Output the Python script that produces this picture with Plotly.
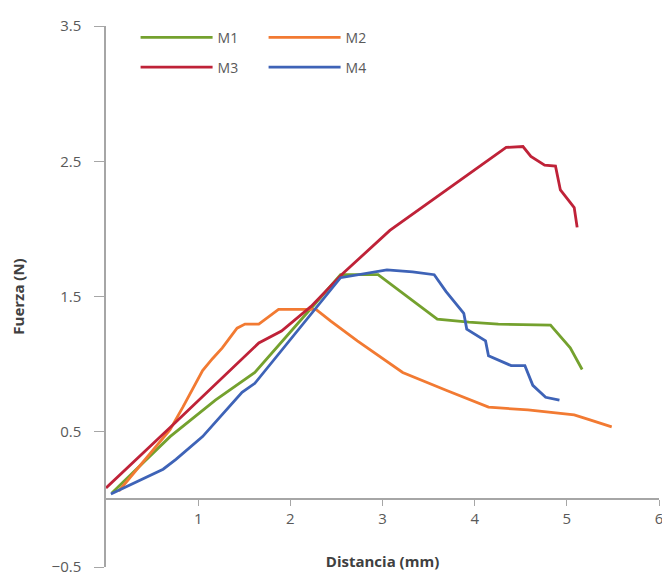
import plotly.graph_objects as go

# Data
m1_x = [0.064, 0.695, 1.187, 1.615, 2.545, 2.952, 3.594, 3.936, 4.257, 4.823, 5.037, 5.166]
m1_y = [0.047, 0.464, 0.734, 0.938, 1.661, 1.661, 1.332, 1.310, 1.296, 1.288, 1.120, 0.960]

m2_x = [0.139, 0.695, 0.834, 1.048, 1.155, 1.262, 1.422, 1.508, 1.658, 1.872, 2.278, 2.439,
        2.727, 3.219, 3.690, 4.150, 4.578, 5.080, 5.251, 5.487]
m2_y = [0.062, 0.515, 0.682, 0.953, 1.040, 1.120, 1.266, 1.296, 1.296, 1.405, 1.405, 1.318,
        1.172, 0.938, 0.807, 0.682, 0.661, 0.624, 0.588, 0.536]

m3_x = [0.0, 0.727, 1.658, 1.904, 2.225, 2.567, 3.080, 4.342, 4.524, 4.610, 4.759, 4.877,
        4.930, 5.080, 5.112]
m3_y = [0.084, 0.551, 1.157, 1.245, 1.427, 1.668, 1.989, 2.602, 2.609, 2.536, 2.471, 2.464,
        2.288, 2.157, 2.011]

m4_x = [0.053, 0.620, 0.759, 1.048, 1.476, 1.615, 2.545, 2.791, 3.048, 3.326, 3.561, 3.690,
        3.882, 3.914, 4.118, 4.150, 4.396, 4.545, 4.631, 4.770, 4.920]
m4_y = [0.040, 0.223, 0.296, 0.464, 0.792, 0.858, 1.639, 1.668, 1.697, 1.682, 1.661, 1.536,
        1.376, 1.259, 1.172, 1.062, 0.989, 0.989, 0.843, 0.755, 0.734]

x_ticks = [1, 2, 3, 4, 5, 6]
y_ticks = [-0.5, 0.5, 1.5, 2.5, 3.5]

series = [
    ("M1", m1_x, m1_y, "#74A12E", "legend"),
    ("M2", m2_x, m2_y, "#F27A32", "legend"),
    ("M3", m3_x, m3_y, "#BF2238", "legend2"),
    ("M4", m4_x, m4_y, "#3E63B7", "legend2"),
]

fig = go.Figure()
for name, xs, ys, col, lg in series:
    fig.add_trace(go.Scatter(x=xs, y=ys, name=name, mode="lines",
                             line=dict(color=col, width=2.8), legend=lg))

font_family = "Open Sans, Noto Sans, sans-serif"
grey = "#595959"

legend_common = dict(orientation="h", xanchor="left", yanchor="middle",
                     bgcolor="rgba(0,0,0,0)", itemwidth=72, entrywidth=41,
                     font=dict(family=font_family, size=14, color=grey),
                     tracegroupgap=0, itemclick=False)

# page body has an 8px margin, so the figure is sized/margined to compensate
fig.update_layout(
    width=662, height=575,
    margin=dict(l=94, r=7, t=13, b=14),
    paper_bgcolor="white", plot_bgcolor="white",
    font=dict(family=font_family, size=15, color=grey),
    showlegend=True,
    legend=dict(x=0.0535, y=1 - 12 / 548, **legend_common),
    legend2=dict(x=0.0535, y=1 - 42 / 548, **legend_common),
    xaxis=dict(range=[0, 6], tickvals=x_ticks, ticks="outside", ticklen=6,
               tickcolor="#A6A6A6", showline=True, linecolor="#A6A6A6", linewidth=1.5,
               showgrid=False, zeroline=False, anchor="free", position=0.125,
               tickfont=dict(size=15, color=grey),
               title=dict(text="<b>Distancia (mm)</b>", standoff=28,
                          font=dict(size=15, color="#404040"))),
    yaxis=dict(range=[-0.5, 3.5], tickvals=y_ticks, ticks="outside", ticklen=10,
               tickcolor="#A6A6A6", showline=True, linecolor="#A6A6A6", linewidth=1.5,
               showgrid=False, zeroline=False, ticklabelstandoff=10,
               tickfont=dict(size=15, color=grey),
               title=dict(text="<b>Fuerza (N)</b>", standoff=26,
                          font=dict(size=15, color="#404040"))),
)

fig.write_html("out.html")
